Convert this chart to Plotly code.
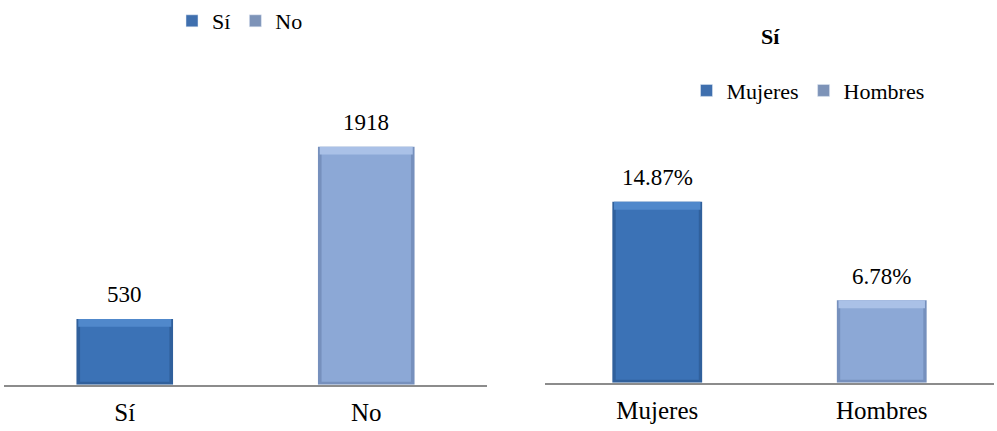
import plotly.graph_objects as go

# left panel: counts
resp_cats = ["Sí", "No"]
resp_vals = [530, 1918]
resp_text = ["530", "1918"]

# right panel: share answering "Sí" by sex
sex_cats = ["Mujeres", "Hombres"]
sex_vals = [14.87, 6.78]
sex_text = ["14.87%", "6.78%"]

W, H = 997, 431
FONT = "Liberation Serif"

# (side/bottom shade, face, top highlight, legend swatch)
DARK = ("#30609c", "#3b72b6", "#5088cb", "#3f6fae")
LIGHT = ("#7690bd", "#8ca8d6", "#aac1e7", "#7d93b8")

# y ranges chosen so the bars sit at the reference heights
left_ymax = 3043
right_ymax = 30.87
left_dom = [47 / H, 1.0]
right_dom = [49 / H, 1.0]


def px_to_units(ymax, dom, px):
    return px * ymax / ((dom[1] - dom[0]) * H)


fig = go.Figure()
annotations = []

specs = [
    (resp_cats, resp_vals, resp_text, "x", "y", "legend", left_ymax, left_dom),
    (sex_cats, sex_vals, sex_text, "x2", "y2", "legend2", right_ymax, right_dom),
]
fills = [DARK, LIGHT]

for cats, vals, texts, xa, ya, leg, ymax, dom in specs:
    top_bev = px_to_units(ymax, dom, 8)
    bot_bev = px_to_units(ymax, dom, 3)
    for i, (c, v, t) in enumerate(zip(cats, vals, texts)):
        shade, face, hi, legc = fills[i]
        # outer bar: darker edges
        fig.add_trace(go.Bar(
            x=[c], y=[v], width=0.4,
            marker=dict(color=shade, line=dict(width=0)),
            xaxis=xa, yaxis=ya, showlegend=False, hoverinfo="skip",
        ))
        # main face
        fig.add_trace(go.Bar(
            x=[c], y=[v - bot_bev - top_bev / 2], base=[bot_bev], width=0.37,
            marker=dict(color=face, line=dict(width=0)),
            xaxis=xa, yaxis=ya, showlegend=False, hovertemplate=f"{c}: {t}<extra></extra>",
        ))
        # top highlight strip
        fig.add_trace(go.Bar(
            x=[c], y=[top_bev], base=[v - top_bev], width=0.385,
            marker=dict(color=hi, line=dict(width=0)),
            xaxis=xa, yaxis=ya, showlegend=False, hoverinfo="skip",
        ))
        # legend swatch
        fig.add_trace(go.Bar(
            x=[c], y=[None], name=c, marker=dict(color=legc),
            xaxis=xa, yaxis=ya, legend=leg, showlegend=True,
        ))
        annotations.append(dict(
            text=t, x=c, y=v, xref=xa, yref=ya, showarrow=False,
            xanchor="center", yanchor="middle", yshift=24,
            font=dict(family=FONT, size=23, color="black"),
        ))

annotations.append(dict(
    text="<b>Sí</b>", x=770 / W, y=1 - 30 / H, xref="paper", yref="paper",
    xanchor="center", yanchor="middle", showarrow=False,
    font=dict(family=FONT, size=22, color="black"),
))

axis_common = dict(
    showline=True, linecolor="#8c8c8c", linewidth=2, ticks="",
    showgrid=False, zeroline=False, fixedrange=True,
    tickfont=dict(family=FONT, size=25, color="black"),
    ticklabelstandoff=4,
)
yaxis_common = dict(visible=False, showgrid=False, zeroline=False, fixedrange=True)

fig.update_layout(
    width=W, height=H,
    margin=dict(l=0, r=0, t=0, b=0),
    paper_bgcolor="white", plot_bgcolor="white",
    barmode="overlay",
    font=dict(family=FONT, size=22, color="black"),
    xaxis=dict(domain=[4 / W, 487 / W], anchor="y", **axis_common),
    yaxis=dict(domain=left_dom, range=[0, left_ymax], anchor="x", **yaxis_common),
    xaxis2=dict(domain=[545 / W, 994 / W], anchor="y2", **axis_common),
    yaxis2=dict(domain=right_dom, range=[0, right_ymax], anchor="x2", **yaxis_common),
    legend=dict(
        orientation="h", x=240 / W, y=1 - 14 / H, xanchor="center", yanchor="middle",
        font=dict(family=FONT, size=22), itemwidth=30, bgcolor="rgba(0,0,0,0)",
    ),
    legend2=dict(
        orientation="h", x=808 / W, y=1 - 85 / H, xanchor="center", yanchor="middle",
        font=dict(family=FONT, size=22), itemwidth=30, bgcolor="rgba(0,0,0,0)",
    ),
    annotations=annotations,
)

fig.write_html(
    "out.html",
    config={"displayModeBar": False},
    post_script="document.body.style.margin='0';",
)
